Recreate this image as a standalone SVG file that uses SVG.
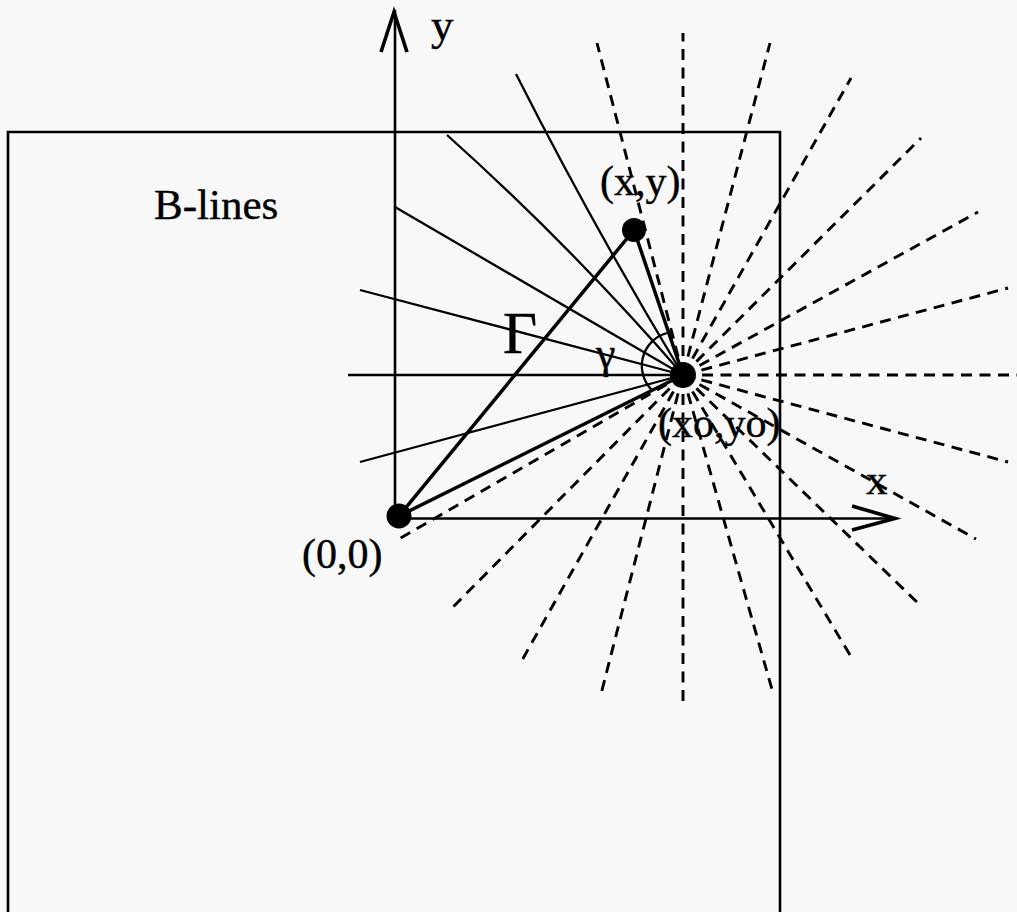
<svg xmlns="http://www.w3.org/2000/svg" width="1017" height="912" viewBox="0 0 1017 912">
<style>
.t{font-family:"Liberation Serif","Times New Roman",serif;fill:#000;stroke:#000;stroke-width:0.4}
.thin{stroke:#000;stroke-width:2.3;fill:none}
.thick{stroke:#000;stroke-width:3.5;fill:none;stroke-linecap:round}
.axis{stroke:#000;stroke-width:2.6;fill:none}
.head{stroke:#000;stroke-width:3.6;fill:none;stroke-linejoin:miter}
.dash{stroke:#000;stroke-width:2.9;fill:none;stroke-dasharray:11 7.5}
.dot{fill:#000}
</style>
<rect x="0" y="0" width="1017" height="912" fill="#f8f8f8"/>
<g id="region">
<path class="axis" d="M8 912 V132 H780 V912"/>
<text class="t" x="154" y="219" font-size="43">B-lines</text>
</g>
<g id="connectors">
<g id="field-lines-dashed">
<line class="dash" x1="702" y1="375" x2="1017" y2="375"/>
<line class="dash" x1="701.4" y1="370.1" x2="1008" y2="288"/>
<line class="dash" x1="699.5" y1="365.5" x2="978" y2="212"/>
<line class="dash" x1="696.4" y1="361.6" x2="921" y2="138"/>
<line class="dash" x1="692.5" y1="358.5" x2="851" y2="78"/>
<line class="dash" x1="687.9" y1="356.6" x2="770" y2="43"/>
<line class="dash" x1="683" y1="356" x2="683" y2="33"/>
<line class="dash" x1="678.1" y1="356.6" x2="597" y2="43"/>
<line class="dash" x1="666.5" y1="384.5" x2="399" y2="539"/>
<line class="dash" x1="669.6" y1="388.4" x2="452" y2="608"/>
<line class="dash" x1="673.5" y1="391.5" x2="521" y2="662"/>
<line class="dash" x1="678.1" y1="393.4" x2="601" y2="694"/>
<line class="dash" x1="683" y1="394" x2="683" y2="705"/>
<line class="dash" x1="687.9" y1="393.4" x2="773" y2="693"/>
<line class="dash" x1="692.5" y1="391.5" x2="853" y2="660"/>
<line class="dash" x1="696.4" y1="388.4" x2="922" y2="607"/>
<line class="dash" x1="699.5" y1="384.5" x2="976" y2="539"/>
<line class="dash" x1="701.4" y1="379.9" x2="1008" y2="462"/>
</g>
<g id="b-lines">
<path class="thin" d="M348 375 L683 375"/>
<path class="thin" d="M360 290 L683 375"/>
<path class="thin" d="M395 207 L683 375"/>
<path class="thin" d="M447 135 Q573 248 683 375"/>
<path class="thin" d="M516 74 Q594 228 683 375"/>
<path class="thin" d="M360 462 L683 375"/>
</g>
<g id="vectors">
<path class="thick" d="M399 516 L634 230"/>
<path class="thick" d="M634 230 L683 375"/>
<path class="thick" d="M399 516 L683 375"/>
<path class="thin" d="M667 333 A34 34 0 0 0 653 391"/>
</g>
<g id="axes">
<path class="axis" d="M395 516 V10"/>
<polyline class="head" points="381,52 394,12 407,52"/>
<path class="axis" d="M399 518.5 H896"/>
<polyline class="head" points="852,506 895,518.5 852,530"/>
</g>
</g>
<g id="origin">
<circle class="dot" cx="399" cy="516" r="12.5"/>
<text class="t" x="302" y="568" font-size="42">(0,0)</text>
</g>
<g id="point-xy">
<circle class="dot" cx="634" cy="230" r="12"/>
<text class="t" x="600" y="195" font-size="42">(x,y)</text>
</g>
<g id="center">
<circle class="dot" cx="683" cy="375" r="13"/>
<text class="t" x="658" y="437" font-size="42">(xo,yo)</text>
</g>
<g id="labels">
<text class="t" x="431" y="40" font-size="45">y</text>
<text class="t" x="866" y="494" font-size="43">x</text>
<text class="t" x="503" y="353" font-size="59">Γ</text>
<text class="t" x="596" y="368" font-size="44">γ</text>
</g>
</svg>
